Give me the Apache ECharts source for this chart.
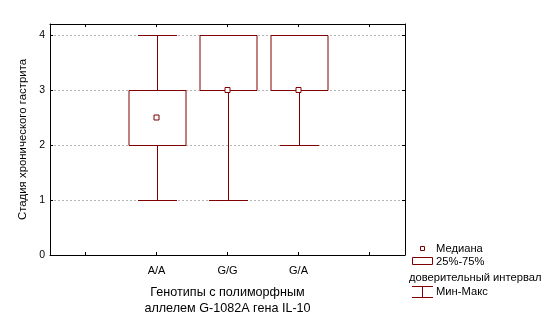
<!DOCTYPE html>
<html>
<head>
<meta charset="utf-8">
<script src="https://cdn.jsdelivr.net/npm/echarts@6/dist/echarts.min.js"></script>
<style>
html,body{margin:0;padding:0;background:#fff;}
#c{width:553px;height:325px;}
</style>
</head>
<body>
<div id="c"></div>
<script>
var categories = ['', 'A/A', 'G/G', 'G/A', ''];
var mins    = [null, 1, 1, 2, null];
var q1s     = [null, 2, 3, 3, null];
var medians = [null, 2.5, 3, 3, null];
var q3s     = [null, 3, 4, 4, null];
var maxs    = [null, 4, 4, 4, null];
var yTicks  = [0, 1, 2, 3, 4];
var yName = 'Стадия хронического гастрита';
var xName = 'Генотипы с полиморфным\nаллелем G-1082A гена IL-10';
var legendLabels = ['Медиана', '25%-75%', 'доверительный интервал', 'Мин-Макс'];

var RED = '#800000';
var FONT = '"Liberation Sans", Arial, sans-serif';

var boxData = [];
var medData = [];
for (var i = 0; i < categories.length; i++) {
  if (mins[i] === null) continue;
  boxData.push([i, mins[i], q1s[i], q3s[i], maxs[i]]);
  medData.push([i, medians[i]]);
}

var chart = echarts.init(document.getElementById('c'), null, {renderer: 'canvas'});

function renderBox(params, api) {
  var x = api.value(0);
  var pMin = api.coord([x, api.value(1)]);
  var pQ1 = api.coord([x, api.value(2)]);
  var pQ3 = api.coord([x, api.value(3)]);
  var pMax = api.coord([x, api.value(4)]);
  var band = api.size([1, 0])[0];
  var bw = band * 0.8;
  var cw = band * 0.56;
  var cx = Math.round(pMin[0]) + 0.5;
  var style = {stroke: RED, lineWidth: 1, fill: null};
  function r(v){ return Math.round(v) + 0.5; }
  return {
    type: 'group',
    children: [
      {type: 'line', shape: {x1: cx, y1: r(pMin[1]), x2: cx, y2: r(pQ1[1])}, style: style},
      {type: 'line', shape: {x1: cx, y1: r(pQ3[1]), x2: cx, y2: r(pMax[1])}, style: style},
      {type: 'line', shape: {x1: Math.round(cx - cw/2), y1: r(pMin[1]), x2: Math.round(cx + cw/2), y2: r(pMin[1])}, style: style},
      {type: 'line', shape: {x1: Math.round(cx - cw/2), y1: r(pMax[1]), x2: Math.round(cx + cw/2), y2: r(pMax[1])}, style: style},
      {type: 'rect', shape: {x: Math.round(cx - bw/2), y: r(pQ3[1]), width: Math.round(bw), height: Math.round(pQ1[1] - pQ3[1])}, style: {stroke: RED, lineWidth: 1, fill: '#fff'}}
    ]
  };
}

var axisLineStyle = {color: '#000', width: 1};
var option = {
  animation: false,
  backgroundColor: '#fff',
  textStyle: {fontFamily: FONT},
  grid: {left: 50, top: 24, right: 148, bottom: 70, containLabel: false},
  xAxis: [{
    type: 'category',
    data: categories,
    position: 'bottom',
    boundaryGap: true,
    axisLine: {show: true, onZero: false, lineStyle: axisLineStyle},
    axisTick: {show: true, inside: true, length: 3, alignWithLabel: true, lineStyle: {color: '#000'}},
    axisLabel: {color: '#000', fontSize: 11, fontFamily: FONT, margin: 10},
    splitLine: {show: false},
    name: xName,
    nameLocation: 'middle',
    nameGap: 29,
    nameTextStyle: {color: '#000', fontSize: 12.6, fontFamily: FONT, lineHeight: 16.5, verticalAlign: 'top'}
  }, {
    type: 'category',
    data: categories,
    position: 'top',
    boundaryGap: true,
    axisLine: {show: true, onZero: false, lineStyle: axisLineStyle},
    axisTick: {show: true, inside: true, length: 3, alignWithLabel: true, lineStyle: {color: '#000'}},
    axisLabel: {show: false}
  }],
  yAxis: [{
    type: 'value',
    min: 0, max: 4.2, interval: 1,
    position: 'left',
    axisLine: {show: true, onZero: false, lineStyle: axisLineStyle},
    axisTick: {show: true, inside: true, length: 3, lineStyle: {color: '#000'}, customValues: yTicks},
    axisLabel: {color: '#000', fontSize: 10.5, fontFamily: FONT, margin: 5, customValues: yTicks},
    splitLine: {show: true, lineStyle: {color: '#b4b4b4', type: [2, 2], width: 1}},
    name: yName,
    nameLocation: 'middle',
    nameRotate: 90,
    nameGap: 13,
    nameTextStyle: {color: '#000', fontSize: 11.4, fontFamily: FONT}
  }, {
    type: 'value',
    min: 0, max: 4.2, interval: 1,
    position: 'right',
    axisLine: {show: true, onZero: false, lineStyle: axisLineStyle},
    axisTick: {show: true, inside: true, length: 3, lineStyle: {color: '#000'}, customValues: yTicks},
    axisLabel: {show: false},
    splitLine: {show: false}
  }],
  series: [{
    type: 'custom',
    xAxisIndex: 0, yAxisIndex: 0,
    renderItem: renderBox,
    encode: {x: 0, y: [1, 2, 3, 4]},
    data: boxData,
    z: 2
  }, {
    type: 'scatter',
    xAxisIndex: 0, yAxisIndex: 0,
    symbol: 'rect',
    symbolSize: 5,
    itemStyle: {color: '#fff', borderColor: RED, borderWidth: 1, opacity: 1},
    data: medData,
    z: 3
  }],
  graphic: [
    {type: 'rect', shape: {x: 420.5, y: 246.5, width: 4, height: 4}, style: {fill: '#fff', stroke: RED, lineWidth: 1}},
    {type: 'text', x: 436, y: 249, style: {text: legendLabels[0], fill: '#000', font: '11.2px ' + FONT, verticalAlign: 'middle'}},
    {type: 'rect', shape: {x: 412.5, y: 257.5, width: 20, height: 7}, style: {fill: '#fff', stroke: RED, lineWidth: 1}},
    {type: 'text', x: 436, y: 262, style: {text: legendLabels[1], fill: '#000', font: '11.2px ' + FONT, verticalAlign: 'middle'}},
    {type: 'text', x: 409, y: 278, style: {text: legendLabels[2], fill: '#000', font: '11.2px ' + FONT, verticalAlign: 'middle'}},
    {type: 'line', shape: {x1: 412, y1: 286.5, x2: 433, y2: 286.5}, style: {stroke: RED, lineWidth: 1}},
    {type: 'line', shape: {x1: 412, y1: 297.5, x2: 433, y2: 297.5}, style: {stroke: RED, lineWidth: 1}},
    {type: 'line', shape: {x1: 422.5, y1: 286.5, x2: 422.5, y2: 297.5}, style: {stroke: RED, lineWidth: 1}},
    {type: 'text', x: 436, y: 292, style: {text: legendLabels[3], fill: '#000', font: '11.2px ' + FONT, verticalAlign: 'middle'}}
  ]
};
chart.setOption(option);
</script>
</body>
</html>
